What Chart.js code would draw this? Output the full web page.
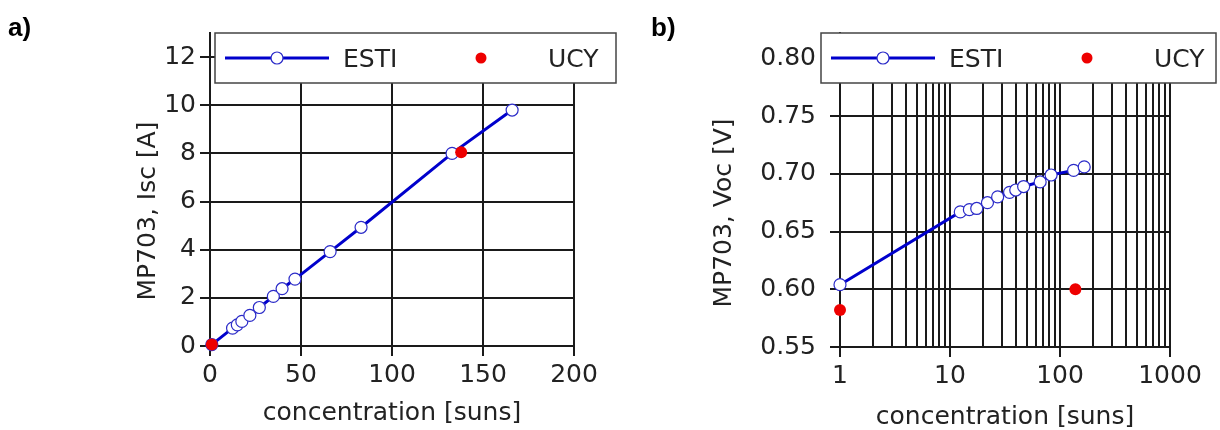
<!DOCTYPE html>
<html>
<head>
<meta charset="utf-8">
<script src="https://cdn.jsdelivr.net/npm/chart.js@4.4.1/dist/chart.umd.min.js"></script>
<style>
  body { margin: 0; background: #fff; }
  .panel { position: absolute; top: 0; }
</style>
</head>
<body>
<div class="panel" style="left:0"><canvas id="chartA" width="640" height="430"></canvas></div>
<div class="panel" style="left:640px"><canvas id="chartB" width="580" height="430"></canvas></div>
<script>
// values
const estiSuns = [1, 12.4, 15, 17.5, 21.9, 27.1, 34.8, 39.6, 46.7, 66, 83, 133, 166];
const estiIsc = [0.06, 0.74, 0.88, 1.02, 1.27, 1.6, 2.06, 2.38, 2.78, 3.92, 4.93, 8.0, 9.8];
const estiVoc = [0.604, 0.667, 0.669, 0.670, 0.675, 0.680, 0.684, 0.686, 0.689, 0.693, 0.699, 0.703, 0.706];
const ucySuns = [1, 138];
const ucyIsc = [0.06, 8.05];
const ucyVoc = [0.582, 0.600];

const iscTicks = [0, 2, 4, 6, 8, 10, 12];
const sunsTicksA = [0, 50, 100, 150, 200];
const vocTicks = [0.55, 0.60, 0.65, 0.70, 0.75, 0.80];
const sunsTicksB = [1, 10, 100, 1000];

const FONT = "'DejaVu Sans', sans-serif";
const TXT = '#222';
const BLUE = '#0000cc';
const RED = '#ee0000';

const pts = (xs, ys) => xs.map((x, i) => ({x: x, y: ys[i]}));

// minor grid for log axis: 1..9 in every decade
const logGrid = [];
for (let i = 0; i < sunsTicksB.length - 1; i++) {
  for (let m = 1; m < 10; m++) logGrid.push(sunsTicksB[i] * m);
}
logGrid.push(sunsTicksB[sunsTicksB.length - 1]);

function datasets(ys, ucy) {
  return [{
    label: 'UCY',
    data: pts(ucySuns, ucy),
    showLine: false,
    pointRadius: 6,
    pointBackgroundColor: RED,
    pointBorderColor: RED,
    pointBorderWidth: 0,
    clip: false,
    order: 0
  }, {
    label: 'ESTI',
    data: pts(estiSuns, ys),
    showLine: true,
    borderColor: BLUE,
    borderWidth: 3,
    pointRadius: 6,
    pointBackgroundColor: '#fff',
    pointBorderColor: '#2b2bc8',
    pointBorderWidth: 1.2,
    clip: false,
    order: 1
  }];
}

// legend, axis titles and panel letter
function decorations(o) {
  return {
    id: 'deco',
    afterDraw(chart) {
      const c = chart.ctx;
      const a = chart.chartArea;
      c.save();
      // legend box
      c.fillStyle = '#fff';
      c.fillRect(o.lx, 33, o.lw, 50);
      c.strokeStyle = '#444';
      c.lineWidth = 1.5;
      c.strokeRect(o.lx, 33, o.lw, 50);
      c.strokeStyle = BLUE;
      c.lineWidth = 3;
      c.beginPath();
      c.moveTo(o.lx + 10, 58);
      c.lineTo(o.lx + 114, 58);
      c.stroke();
      c.beginPath();
      c.arc(o.lx + 62, 58, 6, 0, Math.PI * 2);
      c.fillStyle = '#fff';
      c.fill();
      c.strokeStyle = '#2b2bc8';
      c.lineWidth = 1.2;
      c.stroke();
      c.beginPath();
      c.arc(o.lx + 266, 58, 5.5, 0, Math.PI * 2);
      c.fillStyle = RED;
      c.fill();
      c.fillStyle = TXT;
      c.font = '25px ' + FONT;
      c.textBaseline = 'alphabetic';
      c.textAlign = 'left';
      c.fillText('ESTI', o.lx + 128, 67);
      c.fillText('UCY', o.lx + 333, 67);
      // axis titles
      c.textAlign = 'center';
      c.fillText('concentration [suns]', (a.left + a.right) / 2, o.xb);
      c.translate(o.ylx, o.yly);
      c.rotate(-Math.PI / 2);
      c.textBaseline = 'middle';
      c.fillText(o.ytitle, 0, 0);
      c.restore();
      c.save();
      c.fillStyle = '#000';
      c.font = "bold 26px 'Liberation Sans', Arial, sans-serif";
      c.textAlign = 'left';
      c.fillText(o.letter, o.px, 36);
      c.restore();
    }
  };
}

const gridStyle = {
  color: '#1a1a1a',
  lineWidth: 2,
  tickLength: 10,
  tickColor: '#1a1a1a'
};

new Chart(document.getElementById('chartA'), {
  type: 'scatter',
  data: { datasets: datasets(estiIsc, ucyIsc) },
  options: {
    responsive: false,
    animation: false,
    layout: { padding: { left: 0, top: 33, right: 66, bottom: 0 } },
    plugins: { legend: { display: false }, tooltip: { enabled: false } },
    scales: {
      x: {
        type: 'linear', min: 0, max: 200,
        grid: gridStyle,
        border: { color: '#1a1a1a', width: 2 },
        afterBuildTicks: (s) => { s.ticks = sunsTicksA.map(v => ({value: v})); },
        afterFit: (s) => { s.height = 84; },
        ticks: { color: TXT, font: { family: FONT, size: 25 }, padding: 4, maxRotation: 0 }
      },
      y: {
        type: 'linear', min: 0, max: 13,
        grid: gridStyle,
        border: { color: '#1a1a1a', width: 2 },
        afterBuildTicks: (s) => { s.ticks = iscTicks.map(v => ({value: v})); },
        afterFit: (s) => { s.width = 210; },
        ticks: { color: TXT, font: { family: FONT, size: 25 }, padding: 4 }
      }
    }
  },
  plugins: [decorations({lx: 215, lw: 401, xb: 420, ylx: 148, yly: 211,
    ytitle: 'MP703, Isc [A]', letter: 'a)', px: 8})]
});

new Chart(document.getElementById('chartB'), {
  type: 'scatter',
  data: { datasets: datasets(estiVoc, ucyVoc) },
  options: {
    responsive: false,
    animation: false,
    layout: { padding: { left: 0, top: 33, right: 50, bottom: 0 } },
    plugins: { legend: { display: false }, tooltip: { enabled: false } },
    scales: {
      x: {
        type: 'logarithmic', min: 1, max: 1000,
        grid: Object.assign({}, gridStyle, {
          tickColor: (ctx) => sunsTicksB.includes(ctx.tick.value) ? '#1a1a1a' : 'rgba(0,0,0,0)'
        }),
        border: { color: '#1a1a1a', width: 2 },
        afterBuildTicks: (s) => { s.ticks = logGrid.map(v => ({value: v})); },
        afterFit: (s) => { s.height = 83; },
        ticks: {
          color: TXT, font: { family: FONT, size: 25 }, padding: 4,
          autoSkip: false, maxRotation: 0,
          callback: (v) => sunsTicksB.includes(v) ? String(v) : ''
        }
      },
      y: {
        type: 'linear', min: 0.55, max: 0.822,
        grid: gridStyle,
        border: { color: '#1a1a1a', width: 2 },
        afterBuildTicks: (s) => { s.ticks = vocTicks.map(v => ({value: v})); },
        afterFit: (s) => { s.width = 200; },
        ticks: {
          color: TXT, font: { family: FONT, size: 25 }, padding: 14,
          callback: (v) => v.toFixed(2)
        }
      }
    }
  },
  plugins: [decorations({lx: 181, lw: 395, xb: 424, ylx: 84, yly: 213,
    ytitle: 'MP703, Voc [V]', letter: 'b)', px: 11})]
});
</script>
</body>
</html>
